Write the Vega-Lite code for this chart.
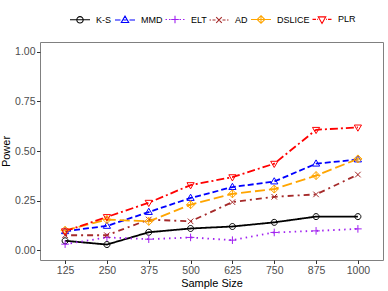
{
  "$schema": "https://vega.github.io/schema/vega-lite/v6.json",
  "width": 343,
  "height": 218,
  "autosize": {"type": "none"},
  "padding": {"left": 40, "top": 42, "right": 5, "bottom": 31},
  "background": "white",
  "config": {
    "font": "Liberation Sans",
    "view": {"stroke": "#808080", "strokeWidth": 1},
    "axis": {"grid": false, "domain": false, "tickColor": "#333333", "tickSize": 3.5, "labelColor": "#4d4d4d", "labelFontSize": 10.5, "titleFontSize": 11, "titleFontWeight": "normal", "titleColor": "black"}
  },
  "data": {"values": [
    {"n": 125, "method": "K-S", "power": 0.047}, {"n": 250, "method": "K-S", "power": 0.028}, {"n": 375, "method": "K-S", "power": 0.09}, {"n": 500, "method": "K-S", "power": 0.109}, {"n": 625, "method": "K-S", "power": 0.119}, {"n": 750, "method": "K-S", "power": 0.14}, {"n": 875, "method": "K-S", "power": 0.169}, {"n": 1000, "method": "K-S", "power": 0.169},
    {"n": 125, "method": "MMD", "power": 0.095}, {"n": 250, "method": "MMD", "power": 0.122}, {"n": 375, "method": "MMD", "power": 0.192}, {"n": 500, "method": "MMD", "power": 0.263}, {"n": 625, "method": "MMD", "power": 0.318}, {"n": 750, "method": "MMD", "power": 0.346}, {"n": 875, "method": "MMD", "power": 0.436}, {"n": 1000, "method": "MMD", "power": 0.457},
    {"n": 125, "method": "ELT", "power": 0.03}, {"n": 250, "method": "ELT", "power": 0.064}, {"n": 375, "method": "ELT", "power": 0.055}, {"n": 500, "method": "ELT", "power": 0.064}, {"n": 625, "method": "ELT", "power": 0.05}, {"n": 750, "method": "ELT", "power": 0.089}, {"n": 875, "method": "ELT", "power": 0.097}, {"n": 1000, "method": "ELT", "power": 0.107},
    {"n": 125, "method": "AD", "power": 0.075}, {"n": 250, "method": "AD", "power": 0.075}, {"n": 375, "method": "AD", "power": 0.154}, {"n": 500, "method": "AD", "power": 0.145}, {"n": 625, "method": "AD", "power": 0.242}, {"n": 750, "method": "AD", "power": 0.269}, {"n": 875, "method": "AD", "power": 0.281}, {"n": 1000, "method": "AD", "power": 0.381},
    {"n": 125, "method": "DSLICE", "power": 0.1}, {"n": 250, "method": "DSLICE", "power": 0.154}, {"n": 375, "method": "DSLICE", "power": 0.145}, {"n": 500, "method": "DSLICE", "power": 0.229}, {"n": 625, "method": "DSLICE", "power": 0.284}, {"n": 750, "method": "DSLICE", "power": 0.308}, {"n": 875, "method": "DSLICE", "power": 0.376}, {"n": 1000, "method": "DSLICE", "power": 0.46},
    {"n": 125, "method": "PLR", "power": 0.095}, {"n": 250, "method": "PLR", "power": 0.167}, {"n": 375, "method": "PLR", "power": 0.239}, {"n": 500, "method": "PLR", "power": 0.328}, {"n": 625, "method": "PLR", "power": 0.368}, {"n": 750, "method": "PLR", "power": 0.436}, {"n": 875, "method": "PLR", "power": 0.607}, {"n": 1000, "method": "PLR", "power": 0.619}
  ]},
  "encoding": {
    "x": {"field": "n", "type": "ordinal", "title": "Sample Size", "scale": {"type": "point", "padding": 0.6}, "axis": {"labelAngle": 0, "labelPadding": 1.5, "titlePadding": 2}},
    "y": {"field": "power", "type": "quantitative", "title": "Power", "scale": {"domain": [-0.05, 1.05], "nice": false, "zero": false}, "axis": {"values": [0, 0.25, 0.5, 0.75, 1], "format": ".2f", "labelPadding": 1.5, "titlePadding": 3}},
    "color": {"field": "method", "type": "nominal", "scale": {"domain": ["K-S", "MMD", "ELT", "AD", "DSLICE", "PLR"], "range": ["#000000", "#0000FF", "#A020F0", "#A52A2A", "#FFA500", "#FF0000"]}, "legend": null}
  },
  "layer": [
    {
      "mark": {"type": "line", "strokeWidth": 1.8},
      "encoding": {
        "strokeDash": {"field": "method", "type": "nominal", "scale": {"domain": ["K-S", "MMD", "ELT", "AD", "DSLICE", "PLR"], "range": [[1, 0], [6, 3], [1.5, 4], [2, 4, 6, 4], [10, 4], [8, 3, 2, 3]]}, "legend": null}
      }
    },
    {
      "mark": {"type": "point", "filled": false, "size": 64, "strokeWidth": 1, "opacity": 1},
      "encoding": {
        "shape": {"field": "method", "type": "nominal", "scale": {"domain": ["K-S", "MMD", "ELT", "AD", "DSLICE", "PLR"], "range": [
          "M0.75,0A0.75,0.75 0 1,1 -0.75,0A0.75,0.75 0 1,1 0.75,0Z",
          "M0,-0.95L0.9,0.6L-0.9,0.6Z",
          "M-0.95,0H0.95M0,-0.95V0.95",
          "M-0.7,-0.7L0.7,0.7M-0.7,0.7L0.7,-0.7",
          "M0,-1L1,0L0,1L-1,0ZM0,-1V1M-1,0H1",
          "M0,0.95L0.9,-0.6L-0.9,-0.6Z"
        ]}, "legend": null}
      }
    },
    {
      "mark": {"type": "point", "filled": false, "size": 64, "opacity": 0},
      "encoding": {
        "color": {"field": "method", "type": "nominal", "scale": {"domain": ["K-S", "MMD", "ELT", "AD", "DSLICE", "PLR"], "range": ["#000000", "#0000FF", "#A020F0", "#A52A2A", "#FFA500", "#FF0000"]}, "legend": {"title": null, "orient": "none", "legendX": 29, "legendY": -34, "direction": "horizontal", "symbolSize": 400, "symbolStrokeWidth": 1.1, "labelFontSize": 9, "labelColor": "black", "labelOffset": 5, "columnPadding": 0, "symbolOpacity": 1}},
        "shape": {"field": "method", "type": "nominal", "scale": {"domain": ["K-S", "MMD", "ELT", "AD", "DSLICE", "PLR"], "range": [
          "M-1,0H1M0.32,0A0.32,0.32 0 1,1 -0.32,0A0.32,0.32 0 1,1 0.32,0Z",
          "M-1,0H-0.45M-0.15,0H0.15M0.45,0H1M0,-0.4L0.37,0.25L-0.37,0.25Z",
          "M-0.95,0H-0.8M-0.6,0H-0.45M0.45,0H0.6M0.8,0H0.95M-0.38,0H0.38M0,-0.38V0.38",
          "M-0.95,0H-0.8M-0.65,0H-0.35M0.35,0H0.65M0.8,0H0.95M-0.28,-0.28L0.28,0.28M-0.28,0.28L0.28,-0.28",
          "M-1,0H-0.4M0.4,0H1M0,-0.38L0.38,0L0,0.38L-0.38,0ZM0,-0.38V0.38M-0.38,0H0.38",
          "M-0.95,0H-0.6M-0.48,0H-0.4M0.4,0H0.48M0.6,0H0.95M0,0.4L0.37,-0.25L-0.37,-0.25Z"
        ]}, "legend": {"title": null, "orient": "none", "legendX": 29, "legendY": -34, "direction": "horizontal", "symbolSize": 400, "symbolStrokeWidth": 1.1, "labelFontSize": 9, "labelColor": "black", "labelOffset": 5, "columnPadding": 0, "symbolOpacity": 1}}
      }
    }
  ],
  "resolve": {"scale": {"shape": "independent", "color": "independent"}}
}
